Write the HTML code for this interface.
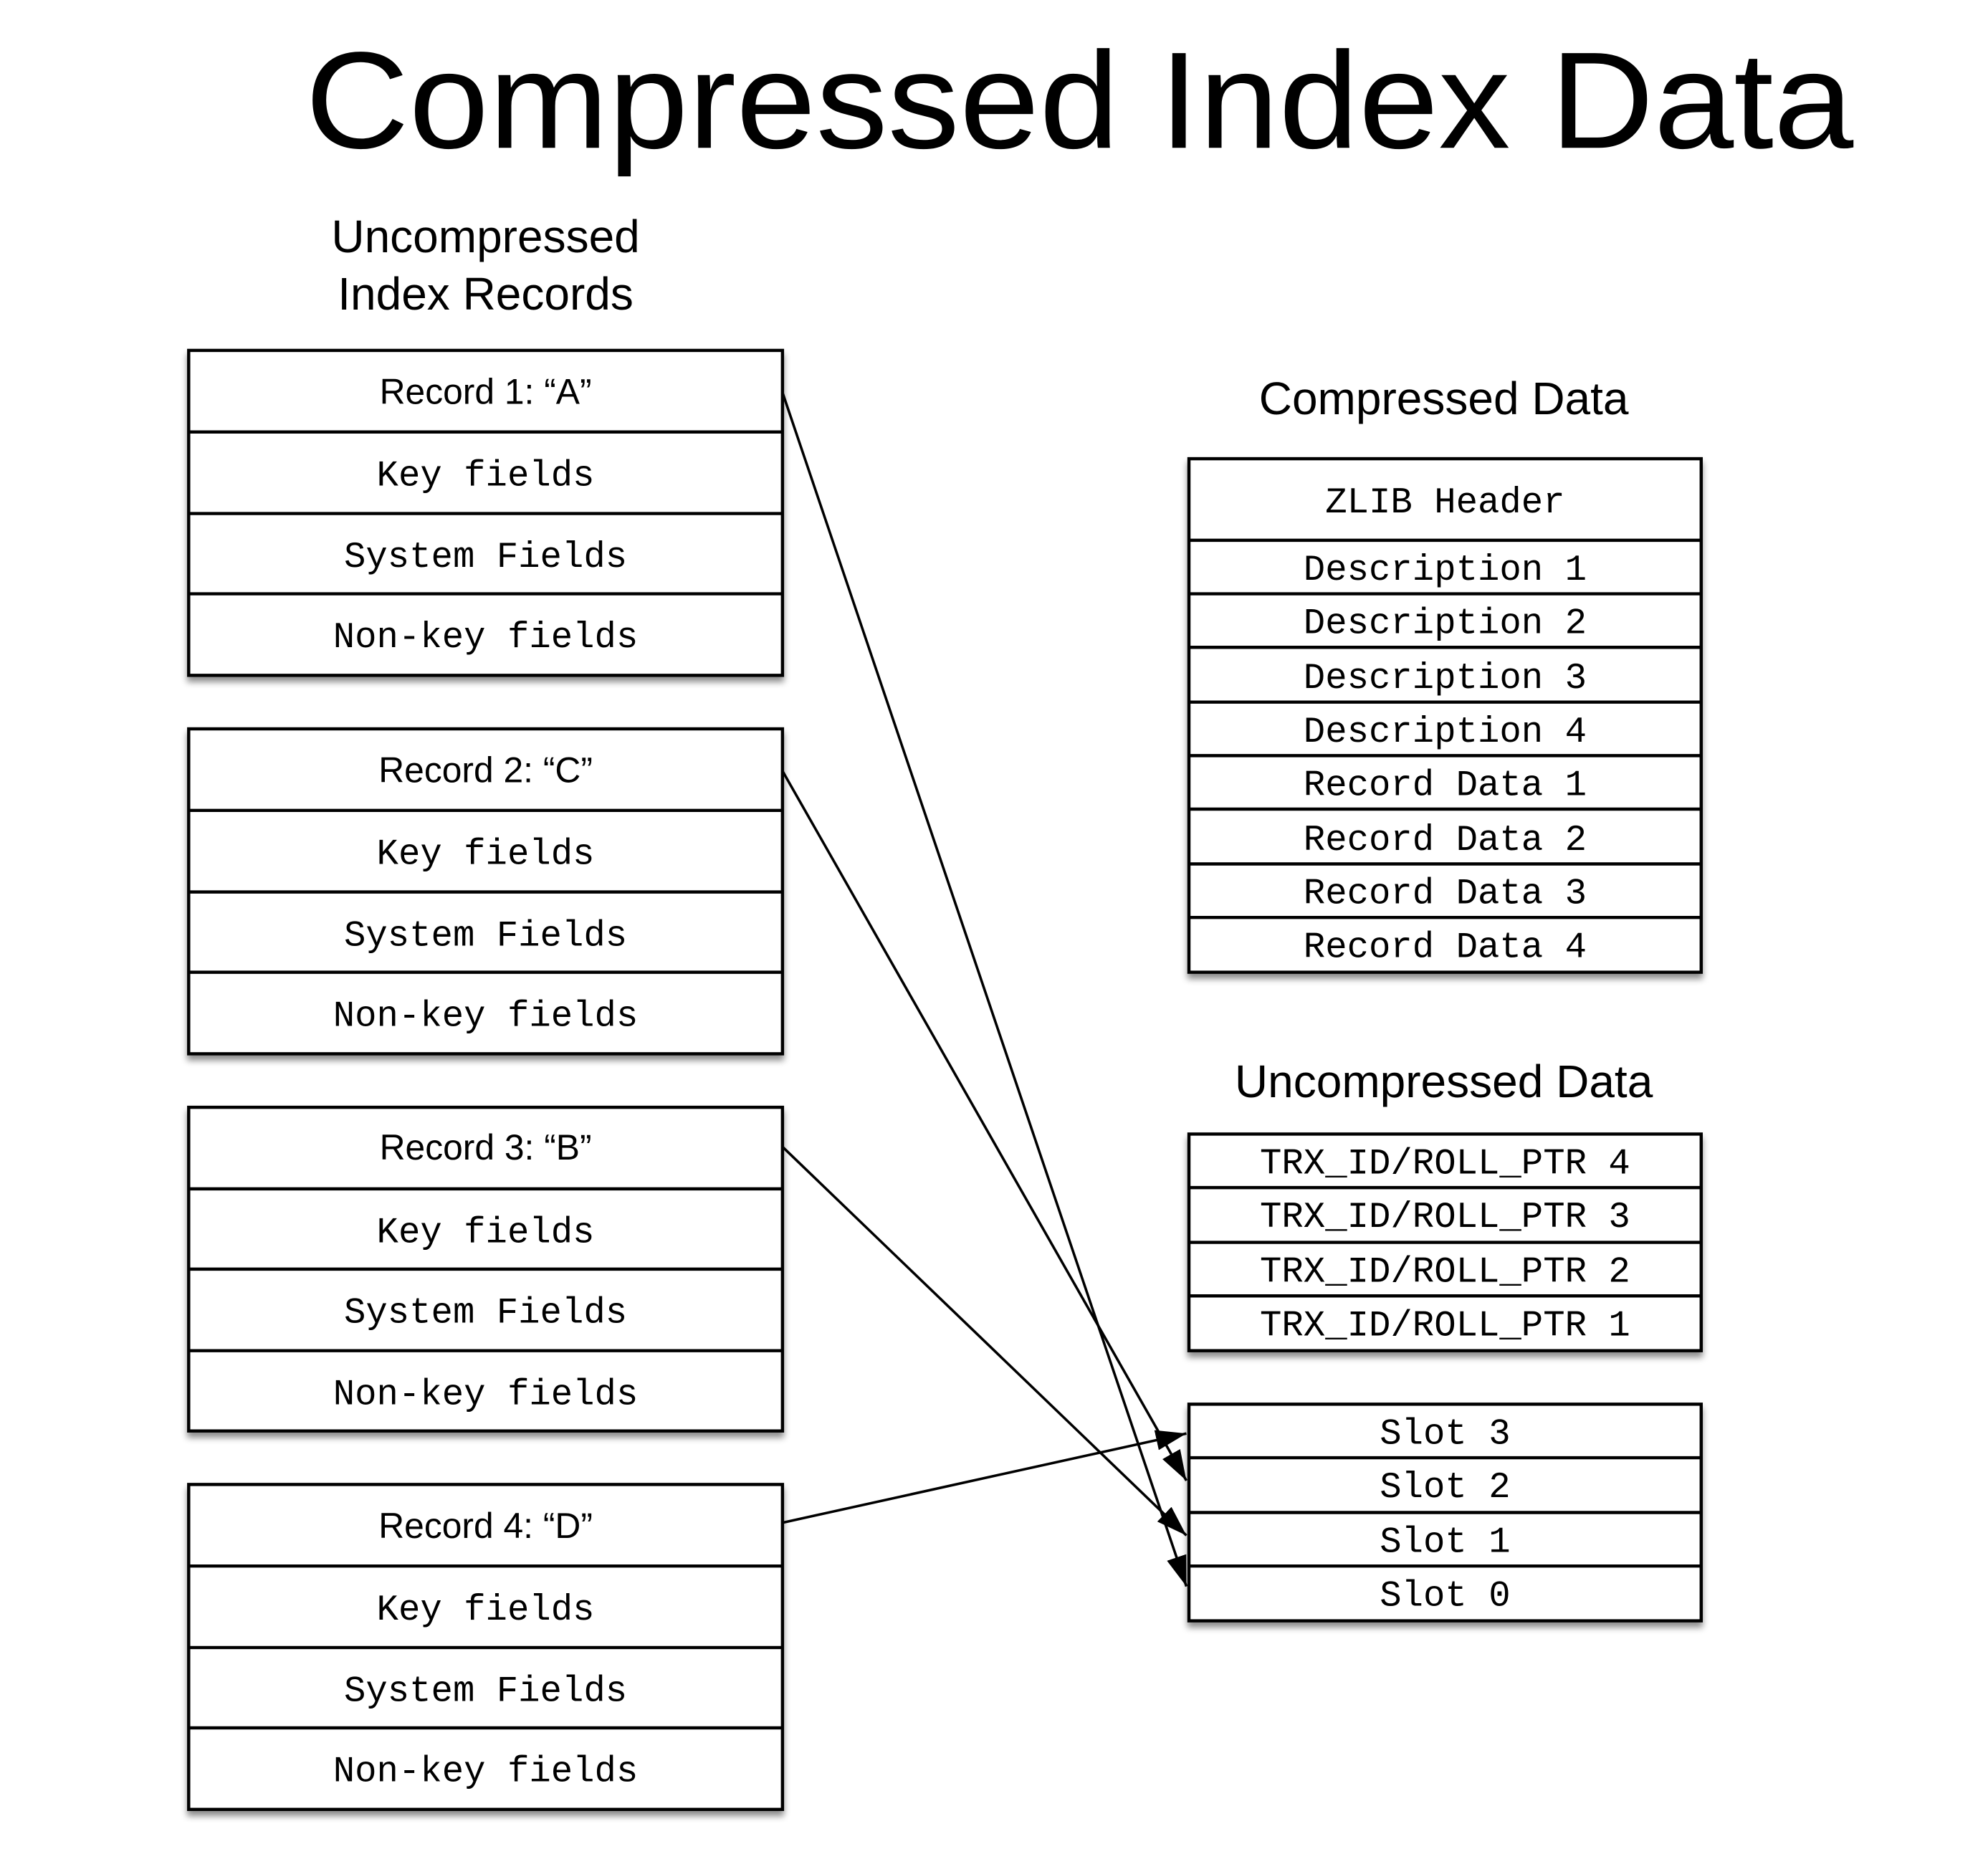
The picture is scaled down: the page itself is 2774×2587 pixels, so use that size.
<!DOCTYPE html>
<html><head><meta charset="utf-8"><style>html,body{margin:0;padding:0;background:#fff}svg{display:block}</style></head>
<body>
<svg width="2774" height="2587" viewBox="0 0 1560 1455" xmlns="http://www.w3.org/2000/svg">
<defs>
<filter id="sh" x="-5%" y="-5%" width="110%" height="115%"><feDropShadow dx="0" dy="4" stdDeviation="2.5" flood-color="#000" flood-opacity="0.45"/></filter>
<marker id="ar2" viewBox="0 0 24 16" refX="24" refY="8" markerWidth="24" markerHeight="16" orient="auto" markerUnits="userSpaceOnUse"><path d="M0,0 L24,8 L0,16 z" fill="#000"/></marker>
</defs>
<g font-family="Liberation Sans, Helvetica, sans-serif" fill="#000" text-anchor="middle">
<text x="847" y="116" font-size="108" textLength="1215" lengthAdjust="spacingAndGlyphs">Compressed Index Data</text>
<text x="381" y="198" font-size="36">Uncompressed</text>
<text x="381" y="243" font-size="36">Index Records</text>
<text x="1133" y="325" font-size="36">Compressed Data</text>
<text x="1133" y="861" font-size="36">Uncompressed Data</text>
</g>
<g fill="#fff" stroke="#000" stroke-width="2.5">
<rect x="148" y="275" width="466" height="255" filter="url(#sh)"/>
<rect x="148" y="572" width="466" height="255" filter="url(#sh)"/>
<rect x="148" y="869" width="466" height="254" filter="url(#sh)"/>
<rect x="148" y="1165" width="466" height="255" filter="url(#sh)"/>
<rect x="933" y="360" width="402" height="403" filter="url(#sh)"/>
<rect x="933" y="890" width="402" height="170" filter="url(#sh)"/>
<rect x="933" y="1102" width="402" height="170" filter="url(#sh)"/>
</g>
<g stroke="#000" stroke-width="2.5">
<line x1="148" y1="339" x2="614" y2="339"/><line x1="148" y1="403" x2="614" y2="403"/><line x1="148" y1="466" x2="614" y2="466"/>
<line x1="148" y1="636" x2="614" y2="636"/><line x1="148" y1="700" x2="614" y2="700"/><line x1="148" y1="763" x2="614" y2="763"/>
<line x1="148" y1="933" x2="614" y2="933"/><line x1="148" y1="996" x2="614" y2="996"/><line x1="148" y1="1060" x2="614" y2="1060"/>
<line x1="148" y1="1229" x2="614" y2="1229"/><line x1="148" y1="1293" x2="614" y2="1293"/><line x1="148" y1="1356" x2="614" y2="1356"/>
<line x1="933" y1="424" x2="1335" y2="424"/><line x1="933" y1="466" x2="1335" y2="466"/><line x1="933" y1="508" x2="1335" y2="508"/>
<line x1="933" y1="551" x2="1335" y2="551"/><line x1="933" y1="593" x2="1335" y2="593"/><line x1="933" y1="635" x2="1335" y2="635"/>
<line x1="933" y1="678" x2="1335" y2="678"/><line x1="933" y1="720" x2="1335" y2="720"/>
<line x1="933" y1="932" x2="1335" y2="932"/><line x1="933" y1="975" x2="1335" y2="975"/><line x1="933" y1="1017" x2="1335" y2="1017"/>
<line x1="933" y1="1144" x2="1335" y2="1144"/><line x1="933" y1="1187" x2="1335" y2="1187"/><line x1="933" y1="1229" x2="1335" y2="1229"/>
</g>
<g font-family="Liberation Sans, Helvetica, sans-serif" font-size="28" text-anchor="middle">
<text x="381" y="317">Record 1: “A”</text>
<text x="381" y="614">Record 2: “C”</text>
<text x="381" y="910">Record 3: “B”</text>
<text x="381" y="1207">Record 4: “D”</text>
</g>
<g font-family="Liberation Mono, DejaVu Sans Mono, monospace" font-size="28.5" text-anchor="middle">
<text x="381" y="381">Key fields</text><text x="381" y="445">System Fields</text><text x="381" y="508">Non-key fields</text>
<text x="381" y="678">Key fields</text><text x="381" y="742">System Fields</text><text x="381" y="805">Non-key fields</text>
<text x="381" y="975">Key fields</text><text x="381" y="1038">System Fields</text><text x="381" y="1102">Non-key fields</text>
<text x="381" y="1271">Key fields</text><text x="381" y="1335">System Fields</text><text x="381" y="1398">Non-key fields</text>
<text x="1134" y="402">ZLIB Header</text>
<text x="1134" y="455">Description 1</text>
<text x="1134" y="497">Description 2</text>
<text x="1134" y="540">Description 3</text>
<text x="1134" y="582">Description 4</text>
<text x="1134" y="624">Record Data 1</text>
<text x="1134" y="667">Record Data 2</text>
<text x="1134" y="709">Record Data 3</text>
<text x="1134" y="751">Record Data 4</text>
<text x="1134" y="921">TRX_ID/ROLL_PTR 4</text>
<text x="1134" y="963">TRX_ID/ROLL_PTR 3</text>
<text x="1134" y="1006">TRX_ID/ROLL_PTR 2</text>
<text x="1134" y="1048">TRX_ID/ROLL_PTR 1</text>
<text x="1134" y="1133">Slot 3</text>
<text x="1134" y="1175">Slot 2</text>
<text x="1134" y="1218">Slot 1</text>
<text x="1134" y="1260">Slot 0</text>
</g>
<g stroke="#000" stroke-width="2" fill="none">
<line x1="614" y1="308" x2="931" y2="1245" marker-end="url(#ar2)"/>
<line x1="614" y1="605" x2="931" y2="1162" marker-end="url(#ar2)"/>
<line x1="614" y1="900" x2="931" y2="1205" marker-end="url(#ar2)"/>
<line x1="614" y1="1195" x2="931" y2="1125" marker-end="url(#ar2)"/>
</g>
</svg>
</body></html>
